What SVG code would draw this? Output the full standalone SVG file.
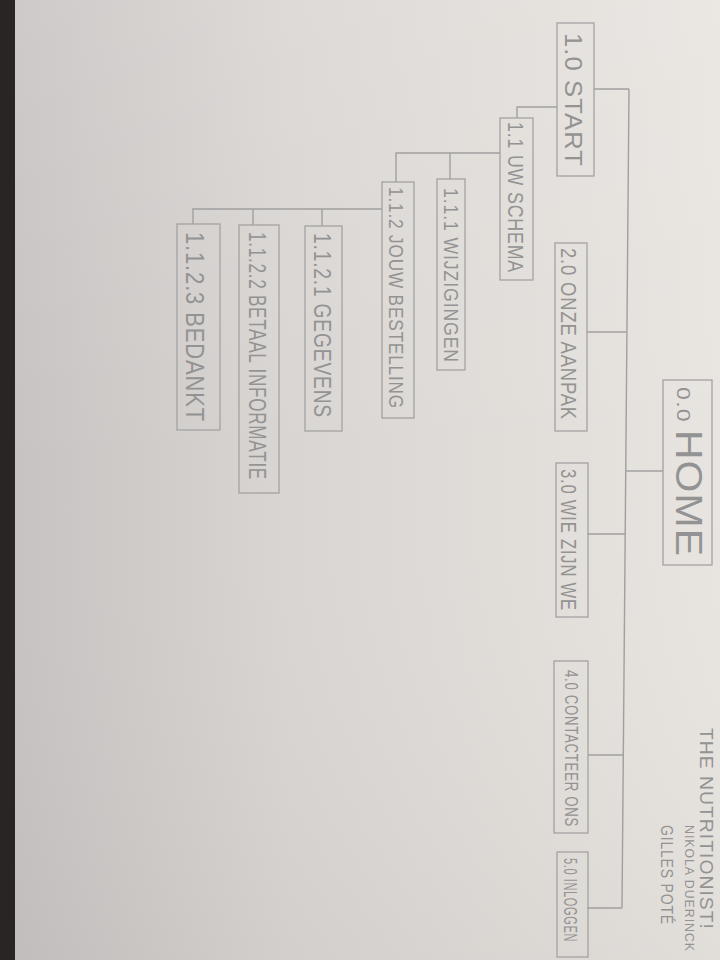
<svg xmlns="http://www.w3.org/2000/svg" width="720" height="960" viewBox="0 0 720 960">
<defs>
<linearGradient id="paper" x1="0" y1="0" x2="1" y2="0">
<stop offset="0" stop-color="#c6c2c1"/>
<stop offset="0.4" stop-color="#d9d5d2"/>
<stop offset="1" stop-color="#e8e4df"/>
</linearGradient>
<linearGradient id="shade" x1="0" y1="0" x2="0" y2="1">
<stop offset="0" stop-color="#ffffff" stop-opacity="0.12"/>
<stop offset="0.5" stop-color="#ffffff" stop-opacity="0"/>
<stop offset="1" stop-color="#000000" stop-opacity="0.03"/>
</linearGradient>
</defs>
<style>
.box{fill:none;stroke:#a3a3a3;stroke-width:1.3}
.ln{fill:none;stroke:#a0a0a0;stroke-width:1.4}
.t{font-family:"Liberation Sans","DejaVu Sans",sans-serif;fill:#939393;letter-spacing:1px}
</style>
<rect x="0" y="0" width="720" height="960" fill="url(#paper)"/>
<rect x="0" y="0" width="720" height="960" fill="url(#shade)"/>
<rect x="0" y="0" width="15" height="960" fill="#2a2525"/>

<g id="connectors" class="ln">
<path d="M629,89 L622,908"/>
<path d="M594,89 H629"/>
<path d="M587,332 H626"/>
<path d="M625,471 H663"/>
<path d="M587,534 H625"/>
<path d="M588,755 H623"/>
<path d="M587,908 H622"/>
<path d="M557,107 H517 V118"/>
<path d="M500,153 H396 V182"/>
<path d="M450,153 V179"/>
<path d="M382,209 H193 V224"/>
<path d="M253,209 V225"/>
<path d="M322,209 V226"/>
</g>

<g id="home">
<rect class="box" x="663" y="380" width="49" height="185"/>
<text class="t" transform="translate(677,387) rotate(90)" font-size="18" textLength="36" lengthAdjust="spacingAndGlyphs">0.0</text>
<text class="t" transform="translate(676,430) rotate(90)" font-size="37" textLength="127" lengthAdjust="spacingAndGlyphs">HOME</text>
</g>

<g id="start">
<rect class="box" x="557" y="23" width="37" height="153"/>
<text class="t" transform="translate(565,33) rotate(90)" font-size="24" textLength="134" lengthAdjust="spacingAndGlyphs">1.0 START</text>
</g>

<g id="uw-schema">
<rect class="box" x="500" y="118" width="33" height="162"/>
<text class="t" transform="translate(508,122) rotate(90)" font-size="22" textLength="151" lengthAdjust="spacingAndGlyphs">1.1 UW SCHEMA</text>
</g>

<g id="wijzigingen">
<rect class="box" x="437" y="179" width="28" height="191"/>
<text class="t" transform="translate(444,188) rotate(90)" font-size="20" textLength="175" lengthAdjust="spacingAndGlyphs">1.1.1 WIJZIGINGEN</text>
</g>

<g id="bestelling">
<rect class="box" x="382" y="182" width="32" height="236"/>
<text class="t" transform="translate(389,187) rotate(90)" font-size="21" textLength="222" lengthAdjust="spacingAndGlyphs">1.1.2 JOUW BESTELLING</text>
</g>

<g id="gegevens">
<rect class="box" x="305" y="226" width="37" height="205"/>
<text class="t" transform="translate(314,233) rotate(90)" font-size="24" textLength="185" lengthAdjust="spacingAndGlyphs">1.1.2.1 GEGEVENS</text>
</g>

<g id="betaal">
<rect class="box" x="239" y="225" width="40" height="268"/>
<text class="t" transform="translate(249,232) rotate(90)" font-size="24" textLength="248" lengthAdjust="spacingAndGlyphs">1.1.2.2 BETAAL INFORMATIE</text>
</g>

<g id="bedankt">
<rect class="box" x="177" y="224" width="43" height="206"/>
<text class="t" transform="translate(186,232) rotate(90)" font-size="26" textLength="190" lengthAdjust="spacingAndGlyphs">1.1.2.3 BEDANKT</text>
</g>

<g id="onze-aanpak">
<rect class="box" x="555" y="243" width="32" height="188"/>
<text class="t" transform="translate(561,248) rotate(90)" font-size="22" textLength="172" lengthAdjust="spacingAndGlyphs">2.0 ONZE AANPAK</text>
</g>

<g id="wie-zijn-we">
<rect class="box" x="556" y="463" width="32" height="154"/>
<text class="t" transform="translate(561,469) rotate(90)" font-size="22" textLength="142" lengthAdjust="spacingAndGlyphs">3.0 WIE ZIJN WE</text>
</g>

<g id="contact">
<rect class="box" x="554" y="661" width="34" height="172"/>
<text class="t" transform="translate(565,670) rotate(90)" font-size="19" textLength="157" lengthAdjust="spacingAndGlyphs">4.0 CONTACTEER ONS</text>
</g>

<g id="inloggen">
<rect class="box" x="557" y="852" width="31" height="105"/>
<text class="t" transform="translate(564,858) rotate(90)" font-size="18" letter-spacing="0" textLength="84" lengthAdjust="spacingAndGlyphs">5.0 INLOGGEN</text>
</g>

<g id="title">
<text class="t" transform="translate(700,728) rotate(90)" font-size="19" textLength="202" lengthAdjust="spacingAndGlyphs">THE NUTRITIONIST!</text>
<text class="t" transform="translate(685,825) rotate(90)" font-size="13" textLength="127" lengthAdjust="spacingAndGlyphs">NIKOLA DUERINCK</text>
<text class="t" transform="translate(661,825) rotate(90)" font-size="17" textLength="100" lengthAdjust="spacingAndGlyphs">GILLES POTÉ</text>
</g>
</svg>
